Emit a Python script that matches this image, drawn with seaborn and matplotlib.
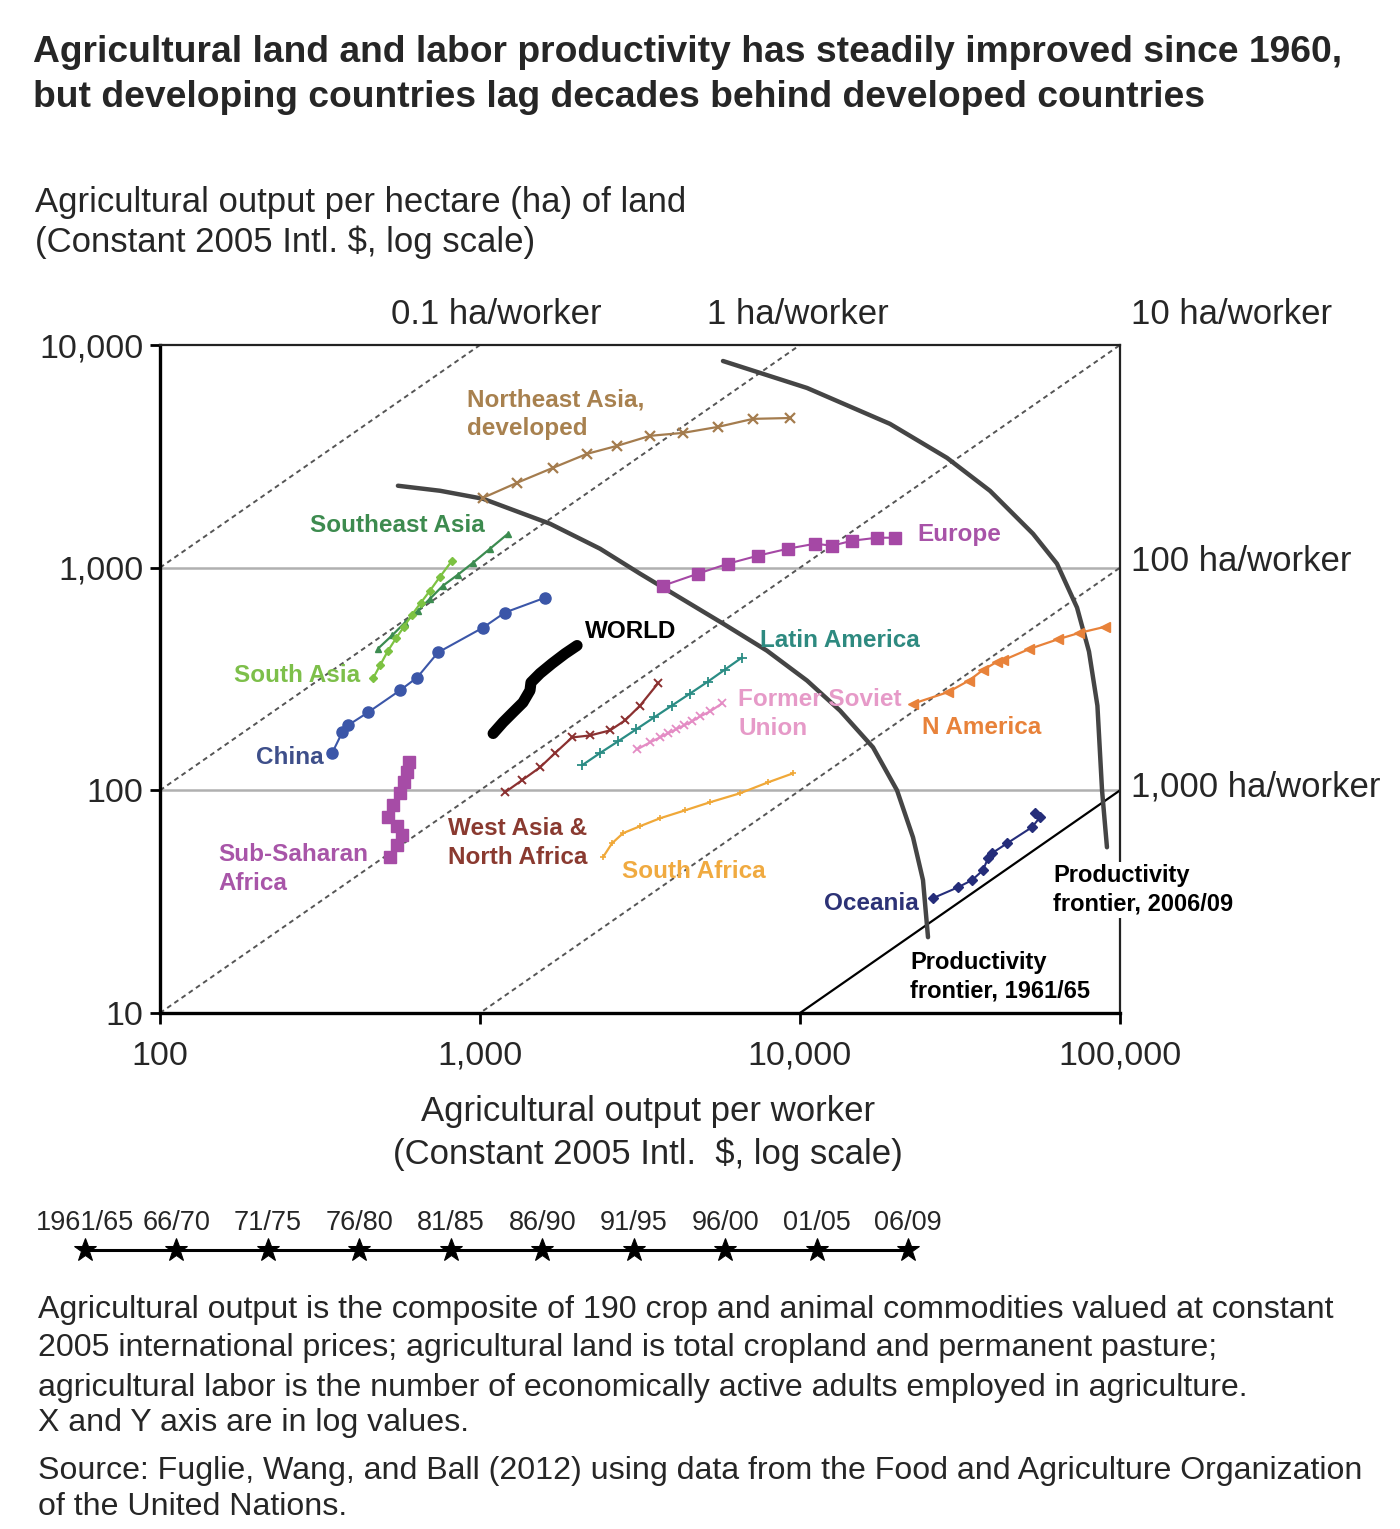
import numpy as np
import pandas as pd
import matplotlib
matplotlib.use("Agg")
import matplotlib.pyplot as plt
from matplotlib.ticker import FixedLocator, NullLocator, FixedFormatter
import seaborn as sns

# ---------------- DATA ----------------
periods = ["1961/65", "66/70", "71/75", "76/80", "81/85", "86/90", "91/95", "96/00", "01/05", "06/09"]

x_ticks = [100, 1000, 10000, 100000]
x_tick_labels = ["100", "1,000", "10,000", "100,000"]
y_ticks = [10, 100, 1000, 10000]
y_tick_labels = ["10", "100", "1,000", "10,000"]

ha_per_worker_dashed = [0.1, 1, 10, 100]
ha_per_worker_solid = [1000]
ha_top_labels = ["0.1 ha/worker", "1 ha/worker", "10 ha/worker"]
ha_right_labels = ["100 ha/worker", "1,000 ha/worker"]

# output per worker (x) and output per hectare (y)
ne_asia_x = [1022, 1305, 1690, 2160, 2680, 3400, 4310, 5540, 7130, 9300]
ne_asia_y = [2060, 2405, 2808, 3245, 3524, 3909, 4030, 4287, 4659, 4700]

se_asia_x = [480, 531, 583, 640, 698, 766, 853, 951, 1075, 1223]
se_asia_y = [433, 496, 567, 641, 726, 830, 930, 1052, 1217, 1420]

s_asia_x = [463, 487, 516, 546, 579, 613, 654, 698, 750, 818]
s_asia_y = [318, 364, 424, 481, 544, 615, 697, 789, 911, 1075]

china_x = [345, 371, 387, 447, 562, 636, 739, 1022, 1197, 1597]
china_y = [147, 182, 196, 224, 281, 321, 416, 538, 629, 733]

world_x = [1099, 1180, 1268, 1362, 1433, 1443, 1540, 1679, 1844, 2011]
world_y = [180, 202, 224, 248, 281, 305, 335, 371, 411, 447]

ssa_x = [523, 550, 570, 550, 516, 535, 562, 579, 591, 600]
ssa_y = [50.1, 56.7, 62.9, 69.0, 75.7, 85.7, 97.0, 108.6, 120.4, 133.5]

wana_x = [1197, 1352, 1540, 1716, 1940, 2207, 2548, 2839, 3162, 3598]
wana_y = [98, 110.9, 126.8, 147, 172.8, 176.4, 185.8, 206, 240, 302]

latam_x = [2083, 2371, 2699, 3073, 3498, 3981, 4532, 5158, 5829, 6586]
latam_y = [129.5, 147, 165.9, 187.7, 212.5, 240.4, 272, 308, 348.8, 394.8]

fsu_x = [3095, 3400, 3652, 3868, 4097, 4341, 4598, 4870, 5233, 5705]
fsu_y = [152.7, 164.2, 172.9, 180.3, 187.7, 195.7, 203.9, 214.7, 226, 245.6]

s_africa_x = [2423, 2585, 2799, 3162, 3652, 4372, 5233, 6494, 7943, 9508]
s_africa_y = [50.1, 57.8, 64.2, 69.0, 74.9, 81.3, 88.4, 97.0, 108.6, 119.2]

europe_x = [3733, 4800, 5957, 7391, 9173, 11140, 12590, 14540, 17400, 19810]
europe_y = [830, 940, 1042, 1132, 1217, 1281, 1255, 1321, 1363, 1363]

n_america_x = [22550, 29000, 33700, 37300, 41300, 43000, 52000, 64000, 74500, 90000]
n_america_y = [245, 276, 311, 347, 378, 383, 431, 477, 509, 543]

oceania_x = [26040, 31180, 34470, 37320, 38680, 39810, 44360, 53090, 56230, 54230]
oceania_y = [32.8, 36.7, 39.5, 43.8, 49.6, 52.2, 57.8, 68.3, 75.7, 78.8]

frontier_6165_x = [554, 750, 1022, 1655, 2371, 3162, 4217, 5747, 7880, 10520,
                   13340, 16910, 20100, 22550, 24230, 25120]
frontier_6165_y = [2333, 2215, 2039, 1575, 1217, 940, 733, 561, 424, 311,
                   228, 156, 100, 61.5, 39.5, 21.9]

frontier_0609_x = [5745, 10520, 19100, 28790, 39240, 53480, 63530, 73400, 80000,
                   85000, 87880, 91040]
frontier_0609_y = [8475, 6412, 4425, 3113, 2214, 1420, 1042, 662, 420,
                   240, 100, 55.5]

series = [
    ("Northeast Asia, developed", ne_asia_x, ne_asia_y),
    ("Southeast Asia", se_asia_x, se_asia_y),
    ("South Asia", s_asia_x, s_asia_y),
    ("China", china_x, china_y),
    ("Sub-Saharan Africa", ssa_x, ssa_y),
    ("West Asia & North Africa", wana_x, wana_y),
    ("Latin America", latam_x, latam_y),
    ("Former Soviet Union", fsu_x, fsu_y),
    ("South Africa", s_africa_x, s_africa_y),
    ("Europe", europe_x, europe_y),
    ("N America", n_america_x, n_america_y),
    ("Oceania", oceania_x, oceania_y),
    ("WORLD", world_x, world_y),
]

frames = []
for name, xs, ys in series:
    frames.append(pd.DataFrame({"region": name, "period": periods, "x": xs, "y": ys}))
df = pd.concat(frames, ignore_index=True)

# ---------------- STYLE ----------------
styles = {
    "Northeast Asia, developed": dict(color="#a47c4e", marker="x", ms=7, lw=1.6, mew=1.6),
    "Southeast Asia": dict(color="#3c8c50", marker="^", ms=4, lw=1.6, mew=1.0),
    "South Asia": dict(color="#7dc242", marker="D", ms=4, lw=1.6, mew=1.0),
    "China": dict(color="#3b56a8", marker="o", ms=8, lw=1.5, mew=1.0),
    "Sub-Saharan Africa": dict(color="#a64ca6", marker="s", ms=8, lw=1.5, mew=1.0),
    "West Asia & North Africa": dict(color="#8b3030", marker="x", ms=6, lw=1.6, mew=1.4),
    "Latin America": dict(color="#2a8c84", marker="+", ms=7, lw=1.6, mew=1.3),
    "Former Soviet Union": dict(color="#e48cc4", marker="x", ms=6, lw=1.6, mew=1.3),
    "South Africa": dict(color="#f0a838", marker="+", ms=5, lw=1.6, mew=1.2),
    "Europe": dict(color="#a548a5", marker="s", ms=8, lw=1.5, mew=1.0),
    "N America": dict(color="#e8823a", marker="<", ms=7, lw=1.6, mew=1.0),
    "Oceania": dict(color="#252d7a", marker="D", ms=5, lw=1.5, mew=1.0),
    "WORLD": dict(color="black", marker=None, ms=0, lw=8, mew=0),
}

W, H = 1400, 1529
def fx(px):
    return px / W
def fy(py):
    return 1 - py / H

sns.set_theme(style="white")
plt.rcParams['font.family'] = ['Liberation Sans', 'DejaVu Sans']

fig = plt.figure(figsize=(W / 100, H / 100), dpi=100)
ax = fig.add_axes([fx(160), fy(1013), (1120 - 160) / W, (1013 - 345) / H])
ax.set_xscale("log")
ax.set_yscale("log")
ax.set_xlim(100, 100000)
ax.set_ylim(10, 10000)

# horizontal gridlines
for yv in [100, 1000]:
    ax.axhline(yv, color="#b0b0b0", lw=1.8, zorder=1)

# ha/worker reference lines
xr = np.array([100.0, 100000.0])
for r in ha_per_worker_dashed:
    ax.plot(xr, xr / r, color="#555555", lw=1.4, ls=(0, (2.5, 2.0)), zorder=1.5)
for r in ha_per_worker_solid:
    ax.plot(xr, xr / r, color="black", lw=1.6, zorder=1.5)

# productivity frontiers
fr = pd.DataFrame({"x": frontier_6165_x, "y": frontier_6165_y})
sns.lineplot(data=fr, x="x", y="y", sort=False, estimator=None, color="#454545",
             lw=3.2, ax=ax, zorder=2)
fr2 = pd.DataFrame({"x": frontier_0609_x, "y": frontier_0609_y})
sns.lineplot(data=fr2, x="x", y="y", sort=False, estimator=None, color="#454545",
             lw=3.2, ax=ax, zorder=2)

# series
for name, _, _ in series:
    st = styles[name]
    sub = df[df.region == name]
    kw = dict(color=st["color"], lw=st["lw"])
    if st["marker"]:
        kw.update(marker=st["marker"], markersize=st["ms"], markeredgecolor=st["color"],
                  markeredgewidth=st["mew"], markerfacecolor=st["color"])
    else:
        kw.update(solid_capstyle="round")
    sns.lineplot(data=sub, x="x", y="y", sort=False, estimator=None, ax=ax, zorder=3, **kw)

ax.set_xlabel("")
ax.set_ylabel("")
ax.xaxis.set_major_locator(FixedLocator(x_ticks))
ax.xaxis.set_major_formatter(FixedFormatter(x_tick_labels))
ax.yaxis.set_major_locator(FixedLocator(y_ticks))
ax.yaxis.set_major_formatter(FixedFormatter(y_tick_labels))
ax.xaxis.set_minor_locator(NullLocator())
ax.yaxis.set_minor_locator(NullLocator())
ax.tick_params(axis="x", which="major", direction="out", length=8, width=2,
               color="black", labelsize=24.5, pad=12, bottom=True)
ax.tick_params(axis="y", which="major", direction="out", length=7, width=2,
               color="black", labelsize=24.5, pad=5, left=True)
for s in ["left", "bottom"]:
    ax.spines[s].set_linewidth(2.4)
    ax.spines[s].set_color("black")
for s in ["top", "right"]:
    ax.spines[s].set_linewidth(1.6)
    ax.spines[s].set_color("#222222")
ax.grid(False)

# ---------------- TEXT ----------------
title_lines = ["Agricultural land and labor productivity has steadily improved since 1960,",
               "but developing countries lag decades behind developed countries"]
fig.text(fx(33), fy(62), title_lines[0], fontsize=26.8, fontweight="bold", va="baseline")
fig.text(fx(33), fy(107), title_lines[1], fontsize=26.8, fontweight="bold", va="baseline")

fig.text(fx(35), fy(212), "Agricultural output per hectare (ha) of land", fontsize=25, va="baseline")
fig.text(fx(35), fy(252), "(Constant 2005 Intl. $, log scale)", fontsize=25, va="baseline")

fig.text(fx(648), fy(1121), "Agricultural output per worker", fontsize=25, va="baseline", ha="center")
fig.text(fx(648), fy(1164), "(Constant 2005 Intl.  $, log scale)", fontsize=25, va="baseline", ha="center")

# ha/worker labels
fig.text(fx(496), fy(324), ha_top_labels[0], fontsize=25, ha="center", va="baseline")
fig.text(fx(798), fy(324), ha_top_labels[1], fontsize=25, ha="center", va="baseline")
fig.text(fx(1131), fy(324), ha_top_labels[2], fontsize=25, ha="left", va="baseline")
fig.text(fx(1131), fy(571), ha_right_labels[0], fontsize=25, ha="left", va="baseline")
fig.text(fx(1131), fy(796), ha_right_labels[1], fontsize=25, ha="left", va="baseline")

# region labels
lab_fs = 17.5
def lab(px, py, text, color, ha="left", weight="bold", fs=lab_fs, box=False):
    kw = {}
    if box:
        kw["bbox"] = dict(facecolor="white", edgecolor="none", pad=1.5)
    fig.text(fx(px), fy(py), text, color=color, fontsize=fs, fontweight=weight,
             ha=ha, va="center", linespacing=1.3, zorder=10, **kw)

lab(467, 414, "Northeast Asia,\ndeveloped", "#a8814f")
lab(310, 525, "Southeast Asia", "#3d8b4f")
lab(234, 675, "South Asia", "#7dbf4a")
lab(256, 758, "China", "#3e4f8a")
lab(585, 632, "WORLD", "black")
lab(218, 869, "Sub-Saharan\nAfrica", "#a855a8")
lab(448, 843, "West Asia &\nNorth Africa", "#8a3a30")
lab(760, 640, "Latin America", "#2e8a80")
lab(738, 714, "Former Soviet\nUnion", "#e69ac8")
lab(922, 727, "N America", "#e8823a")
lab(622, 871, "South Africa", "#f0aa40")
lab(917, 534, "Europe", "#a853a8")
lab(824, 903, "Oceania", "#2c3276")
lab(910, 977, "Productivity\nfrontier, 1961/65", "black", fs=17, box=True)
lab(1053, 890, "Productivity\nfrontier, 2006/09", "black", fs=17, box=True)

# ---------------- TIMELINE ----------------
tax = fig.add_axes([fx(85), fy(1265), (908 - 85) / W, 30 / H])
tl = pd.DataFrame({"pos": np.arange(len(periods)), "y": np.zeros(len(periods)), "period": periods})
sns.lineplot(data=tl, x="pos", y="y", sort=False, estimator=None, ax=tax, color="black",
             lw=2.2, marker="*", markersize=17, markeredgecolor="black", markerfacecolor="black",
             clip_on=False)
tax.set_xlim(0, len(periods) - 1)
tax.set_ylim(-1, 1)
tax.axis("off")
for i, p in enumerate(periods):
    tax.annotate(p, (i, 0), xytext=(0, 10), textcoords="offset points", ha="center",
                 va="bottom", fontsize=19.5)

# ---------------- NOTES ----------------
notes = ["Agricultural output is the composite of 190 crop and animal commodities valued at constant",
         "2005 international prices; agricultural land is total cropland and permanent pasture;",
         "agricultural labor is the number of economically active adults employed in agriculture.",
         "X and Y axis are in log values."]
note_base = [1318, 1356, 1396, 1431]
for t, b in zip(notes, note_base):
    fig.text(fx(38), fy(b), t, fontsize=23.1, va="baseline")
source = ["Source: Fuglie, Wang, and Ball (2012) using data from the Food and Agriculture Organization",
          "of the United Nations."]
for t, b in zip(source, [1479, 1515]):
    fig.text(fx(38), fy(b), t, fontsize=23.1, va="baseline")

fig.savefig("out.png", dpi=100, facecolor="white")
